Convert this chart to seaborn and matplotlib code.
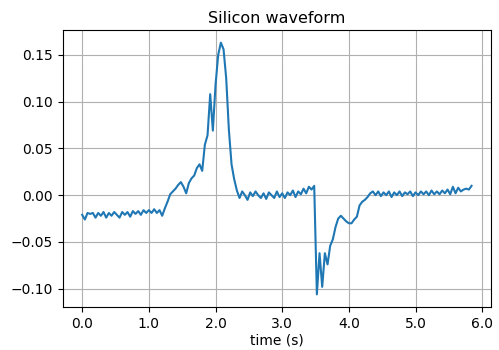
import numpy as np
import pandas as pd
import matplotlib
matplotlib.use("Agg")
import matplotlib.pyplot as plt
from matplotlib.ticker import FormatStrFormatter
import seaborn as sns

# sampling interval of the waveform (s)
sample_dt = 0.04

signal = [
    -0.021, -0.026, -0.019, -0.020, -0.019, -0.024, -0.019, -0.022, -0.018, -0.024,
    -0.019, -0.022, -0.018, -0.021, -0.024, -0.018, -0.021, -0.018, -0.023, -0.017,
    -0.020, -0.017, -0.021, -0.016, -0.019, -0.016, -0.019, -0.015, -0.019, -0.016,
    -0.022, -0.014, -0.007, 0.001, 0.004, 0.007, 0.011, 0.014, 0.009, 0.002,
    0.013, 0.018, 0.021, 0.029, 0.033, 0.026, 0.054, 0.064, 0.108, 0.069,
    0.118, 0.150, 0.163, 0.156, 0.125, 0.070, 0.033, 0.017, 0.005, -0.003,
    0.004, 0.000, -0.005, 0.003, -0.001, 0.004, 0.000, -0.003, 0.002, -0.004,
    0.003, 0.000, -0.003, 0.004, -0.002, 0.002, -0.003, 0.003, 0.000, 0.005,
    -0.002, 0.004, 0.001, 0.007, 0.002, 0.009, 0.006, 0.010, -0.106, -0.062,
    -0.098, -0.062, -0.074, -0.054, -0.047, -0.034, -0.025, -0.022, -0.025, -0.028,
    -0.030, -0.030, -0.026, -0.023, -0.011, -0.007, -0.005, -0.002, 0.002, 0.004,
    0.000, 0.004, -0.001, 0.003, 0.000, 0.004, -0.002, 0.003, 0.000, 0.004,
    -0.001, 0.003, 0.001, 0.004, -0.001, 0.003, 0.000, 0.004, 0.001, 0.004,
    0.000, 0.005, 0.001, 0.004, 0.001, 0.005, 0.002, 0.006, 0.001, 0.009,
    0.002, 0.008, 0.004, 0.006, 0.007, 0.006, 0.010,
]
time = np.round(np.arange(len(signal)) * sample_dt, 2)

title = "Silicon waveform"
xlabel = "time (s)"

df = pd.DataFrame({"time": time, "signal": signal})

fig = plt.figure(figsize=(4.99, 3.5), dpi=100)
ax = fig.add_axes([0.1257, 0.123, 0.984 - 0.1257, 0.914 - 0.123])
sns.lineplot(data=df, x="time", y="signal", ax=ax, color="#1f77b4", linewidth=1.5)
ax.grid(True, color="#b0b0b0", linewidth=0.8)
ax.set_title(title, fontsize=11.5, pad=5)
ax.set_xlabel(xlabel, fontsize=10, labelpad=2)
ax.set_ylabel("")
ax.xaxis.set_major_formatter(FormatStrFormatter("%.1f"))
ax.tick_params(labelsize=10)
fig.savefig("out.png", dpi=100)
